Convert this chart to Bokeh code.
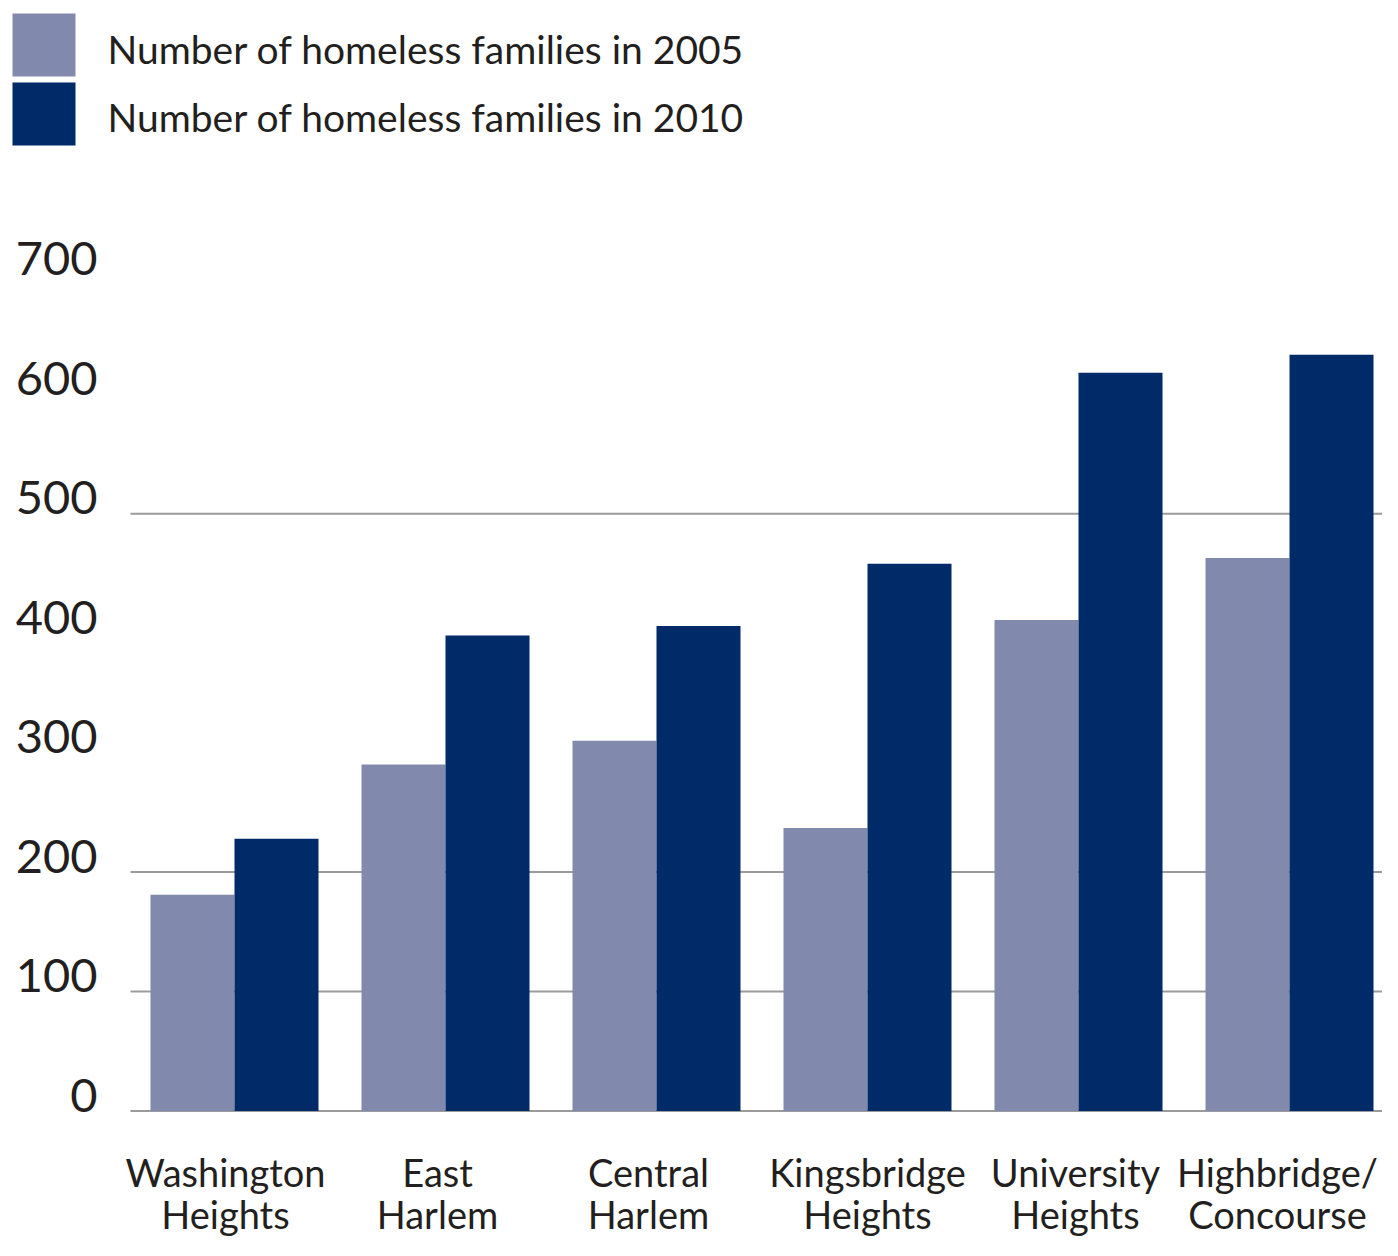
from bokeh.plotting import figure
from bokeh.models import Range1d, ColumnDataSource
from bokeh.core.properties import value
from bokeh.embed import file_html
from bokeh.resources import INLINE

# ---------------- data ----------------
categories = ["Washington\nHeights", "East\nHarlem", "Central\nHarlem",
              "Kingsbridge\nHeights", "University\nHeights", "Highbridge/\nConcourse"]
families_2005 = [181, 290, 310, 237, 411, 463]
families_2010 = [228, 398, 406, 458, 618, 633]
series_labels = ["Number of homeless families in 2005",
                 "Number of homeless families in 2010"]
y_ticks = [0, 100, 200, 300, 400, 500, 600, 700]
grid_values = [100, 200, 500]

# ---------------- styling / geometry ----------------
FONT = "Lato"
TEXT_COLOR = "#231f20"
C2005 = "#818aad"
C2010 = "#002b69"
GRID_COLOR = "#9b9b9b"

W, H = 1382, 1240
PX_PER_GROUP = 211.0
PX_PER_UNIT = 1.1946
X0_PX = 234.0     # canvas x of first group centre
Y0_PX = 1110.5    # canvas y of value 0


def px2x(px):
    return (px - X0_PX) / PX_PER_GROUP


def py2y(py):
    return (Y0_PX - py) / PX_PER_UNIT


p = figure(width=W, height=H, output_backend="svg", toolbar_location=None,
           x_range=Range1d(px2x(0), px2x(W)), y_range=Range1d(py2y(H), py2y(0)),
           min_border=0, tools="")
p.axis.visible = False
p.grid.visible = False
p.outline_line_color = None
p.background_fill_color = "white"
p.border_fill_color = "white"

n = len(categories)
idx = list(range(n))
BAR_W = 84.0 / PX_PER_GROUP
OFF = 42.0 / PX_PER_GROUP

# grid lines + zero axis (drawn under bars)
line_x0 = px2x(130)
line_x1 = px2x(W)
p.segment(x0=[line_x0] * len(grid_values), x1=[line_x1] * len(grid_values),
          y0=grid_values, y1=grid_values, line_color=GRID_COLOR, line_width=2)
p.segment(x0=[line_x0], x1=[line_x1], y0=[0], y1=[0],
          line_color=GRID_COLOR, line_width=2)

line1 = [c.split("\n")[0] for c in categories]
line2 = [c.split("\n")[1] for c in categories]
label_shift = [-9, -8, -8, 0, -3, -12]   # screen-pixel nudges of the labels

src = ColumnDataSource(dict(x=idx, line1=line1, line2=line2, shift=label_shift,
                            v2005=families_2005, v2010=families_2010,
                            x2005=[i - OFF for i in idx], x2010=[i + OFF for i in idx]))
p.vbar(x="x2005", top="v2005", bottom=0, width=BAR_W, source=src,
       fill_color=C2005, line_color=None)
p.vbar(x="x2010", top="v2010", bottom=0, width=BAR_W, source=src,
       fill_color=C2010, line_color=None)

# y tick labels (sit just above their grid line)
p.text(x=[px2x(97)] * len(y_ticks), y=y_ticks, text=[str(t) for t in y_ticks],
       text_align="right", text_baseline="middle", y_offset=-16,
       text_font=value(FONT), text_font_size="47px", text_color=TEXT_COLOR)

# category labels (two lines)
p.text(x="x", y=py2y(1171), text="line1", source=src, x_offset="shift",
       text_align="center", text_baseline="middle",
       text_font=value(FONT), text_font_size="38px", text_color=TEXT_COLOR)
p.text(x="x", y=py2y(1213), text="line2", source=src, x_offset="shift",
       text_align="center", text_baseline="middle",
       text_font=value(FONT), text_font_size="38px", text_color=TEXT_COLOR)

# legend
leg_sq_px = [44.5, 113.5]
leg_mid_px = [48.5, 116.5]
p.rect(x=[px2x(43.5)] * 2, y=[py2y(v) for v in leg_sq_px], width=63, height=63,
       width_units="screen", height_units="screen",
       fill_color=[C2005, C2010], line_color=None)
p.text(x=[px2x(107)] * 2, y=[py2y(v) for v in leg_mid_px], text=series_labels,
       text_align="left", text_baseline="middle",
       text_font=value(FONT), text_font_size="39px", text_color=TEXT_COLOR)

open("out.html", "w").write(file_html(p, INLINE))
